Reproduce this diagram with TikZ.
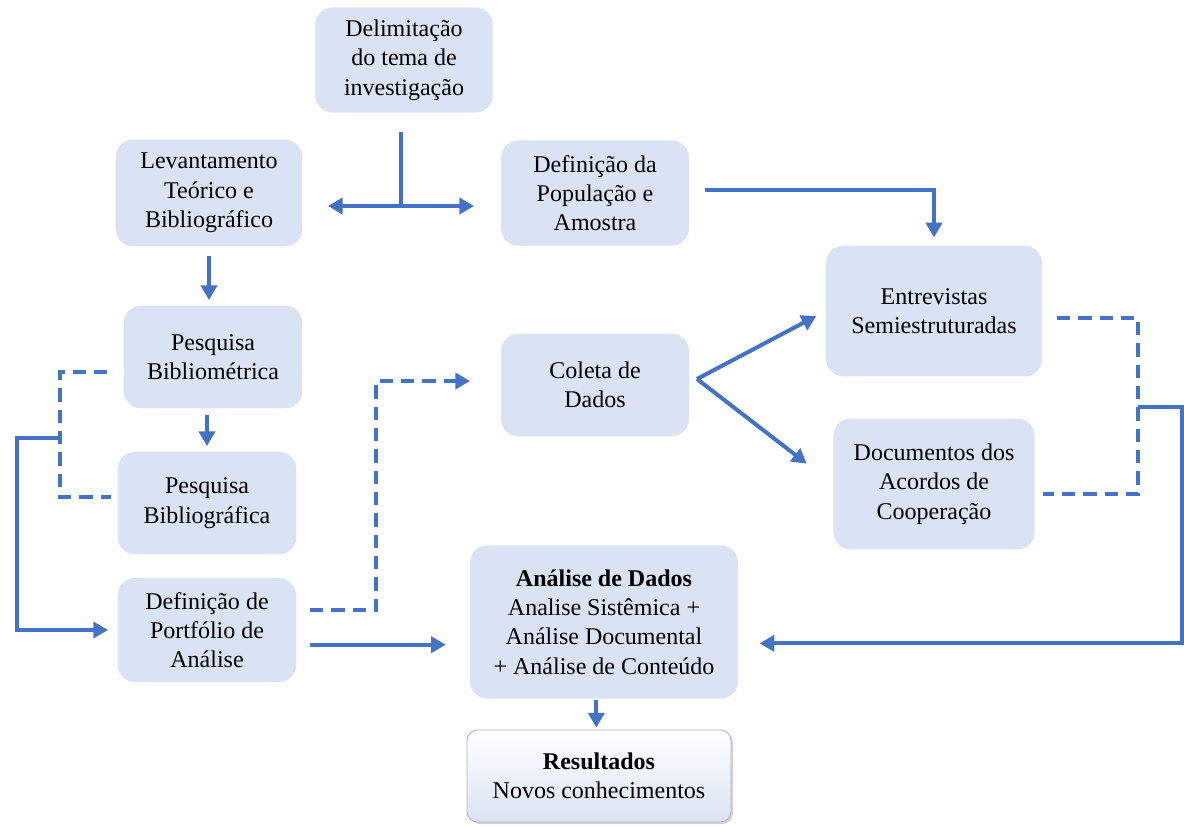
\documentclass[tikz,border=0pt]{standalone}
\usepackage{fontspec}
\setmainfont{Liberation Serif}
\usetikzlibrary{arrows.meta,shadows}
\definecolor{boxblue}{HTML}{DAE3F3}
\definecolor{lineblue}{HTML}{4472C4}
\tikzset{
  box/.style={fill=boxblue, rounded corners=13pt, align=center, inner sep=2pt,
    font=\fontsize{18}{22}\selectfont},
  line/.style={draw=lineblue, line width=3pt},
  arrow/.style={line, -{Triangle[length=11pt,width=12pt]}},
  dline/.style={line, dash pattern=on 10pt off 6pt},
  darrow/.style={dline, -{Triangle[length=11pt,width=12pt]}}
}
\begin{document}
\begin{tikzpicture}[x=0.75pt,y=-0.75pt]
\useasboundingbox (0,0) rectangle (1184,826);
\node[box, minimum width=133pt, minimum height=79pt] (del) at (404,60) {Delimitação\\do tema de\\investigação};
\node[box, minimum width=140pt, minimum height=80pt] (lev) at (209,193) {Levantamento\\Teórico e\\Bibliográfico};
\node[box, minimum width=141pt, minimum height=79pt] (pop) at (595,193) {Definição da\\População e\\Amostra};
\node[box, minimum width=162pt, minimum height=98pt] (ent) at (934,311) {Entrevistas\\Semiestruturadas};
\node[box, minimum width=134pt, minimum height=77pt] (bibm) at (213,357) {Pesquisa\\Bibliométrica};
\node[box, minimum width=141pt, minimum height=77pt] (col) at (595,385) {Coleta de\\Dados};
\node[box, minimum width=134pt, minimum height=77pt] (bibg) at (207,503) {Pesquisa\\Bibliográfica};
\node[box, minimum width=151pt, minimum height=98pt] (doc) at (934,484) {Documentos dos\\Acordos de\\Cooperação};
\node[box, minimum width=134pt, minimum height=78pt] (port) at (207,630) {Definição de\\Portfólio de\\Análise};
\node[box, minimum width=201pt, minimum height=115pt] (ana) at (604,622) {\textbf{Análise de Dados}\\Analise Sistêmica +\\Análise Documental\\+ Análise de Conteúdo};
\node[box, rounded corners=8pt, draw=gray!60, line width=0.6pt, top color=white, bottom color=boxblue,
  drop shadow={shadow xshift=1.5pt, shadow yshift=-1.5pt, opacity=0.35},
  minimum width=198pt, minimum height=69pt] (res) at (599,776) {\textbf{Resultados}\\Novos conhecimentos};
\coordinate (split) at (401,206);
\coordinate (lx) at (60,438);
\coordinate (lx2) at (17,438);
\coordinate (mx) at (376,381);
\coordinate (cfork) at (697,379);
\coordinate (rx) at (1138,407);
\coordinate (rx2) at (1182,407);
\draw[line, shorten >=14pt] (split) -- (split |- del.south);
\draw[arrow, shorten >=19pt] (split) -- (split -| lev.east);
\draw[arrow, shorten >=20pt] (split) -- (split -| pop.west);
\draw[arrow, shorten <=7pt, shorten >=4pt] (lev.south) -- (lev.south |- bibm.north);
\draw[arrow, shorten <=4.5pt, shorten >=4pt] (bibg.north |- bibm.south) -- (bibg.north);
\draw[arrow, shorten <=12pt, shorten >=6pt] ([yshift=2pt]pop.east) -| (ent.north);
\draw[arrow, shorten >=8pt] (cfork) -- (ent.west);
\draw[arrow, shorten >=25pt] (cfork) -- (doc.west);
\draw[dline, shorten <=12pt, shorten >=4.5pt] ([yshift=-11pt]bibm.west) -| (lx) |- ([yshift=4.5pt]bibg.west);
\draw[arrow, shorten >=7pt] (lx) -- (lx2) |- (port.west);
\draw[darrow, shorten <=10pt, shorten >=23pt] ([yshift=15pt]port.east) -| (mx) -- (mx -| col.west);
\draw[arrow, shorten <=10pt, shorten >=18pt] ([yshift=-11pt]port.east) -- ([yshift=-11pt]port.east -| ana.west);
\draw[dline, shorten <=11pt, shorten >=6pt] ([yshift=-5pt]ent.east) -| (rx) |- ([yshift=-7.5pt]doc.east);
\draw[arrow, shorten >=16pt] (rx) -- (rx2) |- ([yshift=-16pt]ana.east);
\draw[arrow, shorten <=1pt, shorten >=1.5pt] ([xshift=-2pt]res.north |- ana.south) -- ([xshift=-2pt]res.north);
\end{tikzpicture}
\end{document}
